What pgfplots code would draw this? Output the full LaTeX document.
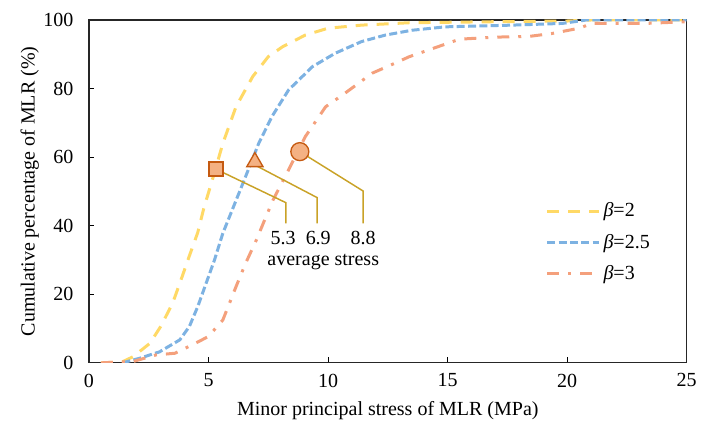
\documentclass[border=0pt]{standalone}
\usepackage{fontspec}
\setmainfont{Liberation Serif}
\usepackage{pgfplots}
\pgfplotsset{compat=1.18}
\definecolor{cyel}{HTML}{FFD966}
\definecolor{cblu}{HTML}{7DB2E2}
\definecolor{cora}{HTML}{F4A07C}
\definecolor{mfill}{HTML}{F4B183}
\definecolor{medge}{HTML}{C55A11}
\definecolor{lead}{HTML}{C9A227}
\begin{document}
\fontsize{15}{18}\selectfont
\begin{tikzpicture}
\useasboundingbox (-66.75pt,-51.75pt) rectangle (465.25pt,272.25pt);
\begin{axis}[
  scale only axis, width=448.5pt, height=257.25pt,
  xmin=0, xmax=25, ymin=0, ymax=100,
  xtick={0,5,...,25}, ytick={0,20,...,100},
  tick pos=left, tick align=inside, major tick length=4pt,
  axis line style={line width=0.9pt, black!85},
  every tick/.style={black, line width=0.8pt},
  /pgf/number format/assume math mode=true,
  tick label style={font=\fontsize{15}{18}\selectfont},
  yticklabel style={xshift=-6.5pt},
  xticklabel style={yshift=-3pt},
  label style={font=\fontsize{15}{18}\selectfont},
  xlabel={Minor principal stress of MLR (MPa)},
  ylabel={Cumulative percentage of MLR (\%)},
  xlabel style={at={(axis description cs:0.5,-0.14)}, anchor=center},
  ylabel style={at={(axis description cs:-0.099,0.5)}, anchor=center},
  legend style={at={(axis cs:19.1,47.5)}, anchor=north west, draw=none, fill=none,
    font=\fontsize{15}{18}\selectfont, row sep=6.5pt, inner sep=0pt, cells={anchor=west}},
  legend image code/.code={\draw[#1] (0pt,0pt) -- (39pt,0pt);},
]
\addplot[cyel, line width=2.25pt, line cap=butt, dash pattern=on 9pt off 6.75pt] coordinates {
(0.5,0) (1.4,0.3) (1.85,1.8) (2.55,5.7) (3.0,10.6) (3.5,17.4) (3.85,24.2) (4.2,31.2) (4.55,38) (4.8,45) (5.2,54.3) (5.6,64) (6.15,74.7) (6.85,83.5) (7.5,89.3) (8.1,92.2) (9.05,95.6) (10,97.6) (11.4,98.5) (13.4,99.2) (17,99.5) (20,99.7) (21,100) (25,100)};
\addlegendentry{\textit{β}=2}
\addplot[cblu, line width=2.25pt, line cap=butt, dash pattern=on 6pt off 2.5pt] coordinates {
(1.4,0) (2.1,1.3) (2.95,3.2) (3.8,6.7) (4.2,10.6) (4.55,16.4) (4.9,23.2) (5.25,30) (5.6,37.8) (6.05,45.6) (6.55,54.3) (7.1,64) (7.65,71.8) (8.35,79.6) (9.35,86.4) (10.3,90.3) (11.4,93.7) (12.4,95.6) (13.5,97) (14.9,98) (17.7,98.5) (19.8,99) (20.8,100) (25,100)};
\addlegendentry{\textit{β}=2.5}
\addplot[cora, line width=2.25pt, line cap=butt, dash pattern=on 9pt off 6.75pt on 2.25pt off 6.75pt] coordinates {
(0.5,0) (1.85,0.4) (2.8,2.3) (3.6,2.8) (4.45,5.7) (5.0,7.7) (5.6,12.5) (6.15,22.2) (6.55,29) (7.0,35.8) (7.35,41.7) (7.7,47.5) (8.35,56.3) (9.05,66) (9.9,74.7) (10.7,78.6) (11.85,84.5) (12.8,87.4) (13.4,89.3) (14.8,92.7) (15.5,94.4) (17,95) (18.4,95.2) (19.4,96.1) (20.5,97.6) (21.05,99) (22,99) (23.3,99) (25,99.5)};
\addlegendentry{\textit{β}=3}
% leader lines
\addplot[lead, line width=1.1pt, forget plot] coordinates {(5.31,56.5) (8.24,46.7) (8.24,40.7)};
\addplot[lead, line width=1.1pt, forget plot] coordinates {(6.94,57.7) (9.54,48.2) (9.54,40.7)};
\addplot[lead, line width=1.1pt, forget plot] coordinates {(8.82,61.6) (11.47,50.1) (11.47,40.7)};
% markers
\addplot[only marks, forget plot, mark=square*, mark size=5.25pt, mark options={fill=mfill, draw=medge, line width=1pt}] coordinates {(5.31,56.5)};
\addplot[only marks, forget plot, mark=triangle*, mark size=7pt, mark options={fill=mfill, draw=medge, line width=1pt}] coordinates {(6.94,58.6)};
\addplot[only marks, forget plot, mark=*, mark size=6.75pt, mark options={fill=mfill, draw=medge, line width=1pt}] coordinates {(8.82,61.6)};
\node[anchor=center, inner sep=0pt] at (axis cs:8.12,36.4) {5.3};
\node[anchor=center, inner sep=0pt] at (axis cs:9.59,36.4) {6.9};
\node[anchor=center, inner sep=0pt] at (axis cs:11.47,36.4) {8.8};
\node[anchor=center, inner sep=0pt] at (axis cs:9.8,29.5) {average stress};
\end{axis}
\end{tikzpicture}
\end{document}
